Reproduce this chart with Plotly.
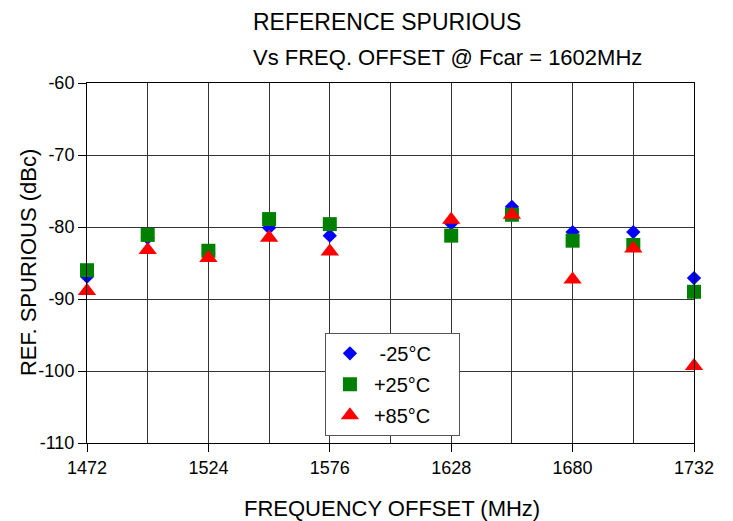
import plotly.graph_objects as go

freq = [1472, 1498, 1524, 1550, 1576, 1628, 1654, 1680, 1706, 1732]
minus25 = [-86.9, -81.5, -83.6, -80.1, -81.2, -79.5, -77.2, -80.7, -80.7, -87.1]
plus25 = [-86.0, -81.1, -83.3, -78.9, -79.6, -81.2, -78.3, -81.9, -82.5, -89.0]
plus85 = [-88.9, -83.2, -84.3, -81.5, -83.4, -79.0, -78.3, -87.3, -83.0, -99.3]
x_ticks = [1472, 1524, 1576, 1628, 1680, 1732]
y_ticks = [-110, -100, -90, -80, -70, -60]

FONT = "Liberation Sans, Arial, Helvetica, sans-serif"
PAD = "\u00a0\u00a0\u00a0\u00a0"

fig = go.Figure()
fig.add_trace(go.Scatter(x=freq, y=minus25, mode="markers", name="\u00a0-25°C" + PAD, legendgroup="a",
                         cliponaxis=False,
                         marker=dict(symbol="diamond", size=11, color="#0000FF")))
fig.add_trace(go.Scatter(x=freq, y=plus25, mode="markers", name="+25°C" + PAD, legendgroup="b",
                         cliponaxis=False,
                         marker=dict(symbol="square", size=14, color="#008000")))
fig.add_trace(go.Scatter(x=freq, y=plus85, mode="markers", name="+85°C" + PAD, legendgroup="c",
                         cliponaxis=False,
                         marker=dict(symbol="triangle-up", size=16, color="#FF0000")))

fig.update_layout(
    width=725, height=513,
    margin=dict(l=79, r=39, t=75, b=78, autoexpand=False),
    paper_bgcolor="white", plot_bgcolor="white",
    font=dict(family=FONT, color="black", size=18),
    showlegend=True,
    legend=dict(x=0.392, y=0.306, xanchor="left", yanchor="top",
                bgcolor="white", bordercolor="#555", borderwidth=1,
                font=dict(size=20, family=FONT), itemwidth=38,
                tracegroupgap=2),
    annotations=[
        dict(text="REFERENCE SPURIOUS", xref="paper", yref="paper",
             x=0.270, y=1.169, xanchor="left", yanchor="middle",
             showarrow=False, font=dict(size=23)),
        dict(text="Vs FREQ. OFFSET @ Fcar = 1602MHz", xref="paper", yref="paper",
             x=0.270, y=1.072, xanchor="left", yanchor="middle",
             showarrow=False, font=dict(size=22)),
        dict(text="FREQUENCY OFFSET (MHz)", xref="paper", yref="paper",
             x=0.502, y=-0.181, xanchor="center", yanchor="middle",
             showarrow=False, font=dict(size=22)),
        dict(text="REF. SPURIOUS (dBc)", xref="paper", yref="paper",
             x=-0.097, y=0.5, xanchor="center", yanchor="middle", textangle=-90,
             showarrow=False, font=dict(size=22)),
    ],
)
fig.update_xaxes(
    range=[1472, 1732], tickvals=x_ticks, ticktext=[str(v) for v in x_ticks],
    showgrid=True, gridcolor="#333", gridwidth=1,
    minor=dict(dtick=26, tick0=1472, showgrid=True, gridcolor="#333", gridwidth=1),
    ticks="outside", ticklen=8, tickcolor="black",
    showline=True, linecolor="black", linewidth=1, mirror=True,
    zeroline=False, automargin=False,
    tickfont=dict(size=18),
)
fig.update_yaxes(
    range=[-110, -60], tickvals=y_ticks, ticktext=[str(v) for v in y_ticks],
    showgrid=True, gridcolor="#333", gridwidth=1,
    ticks="outside", ticklen=8, tickcolor="black",
    showline=True, linecolor="black", linewidth=1, mirror=True,
    zeroline=False, automargin=False,
    tickfont=dict(size=18),
)

fig.write_html("out.html")
